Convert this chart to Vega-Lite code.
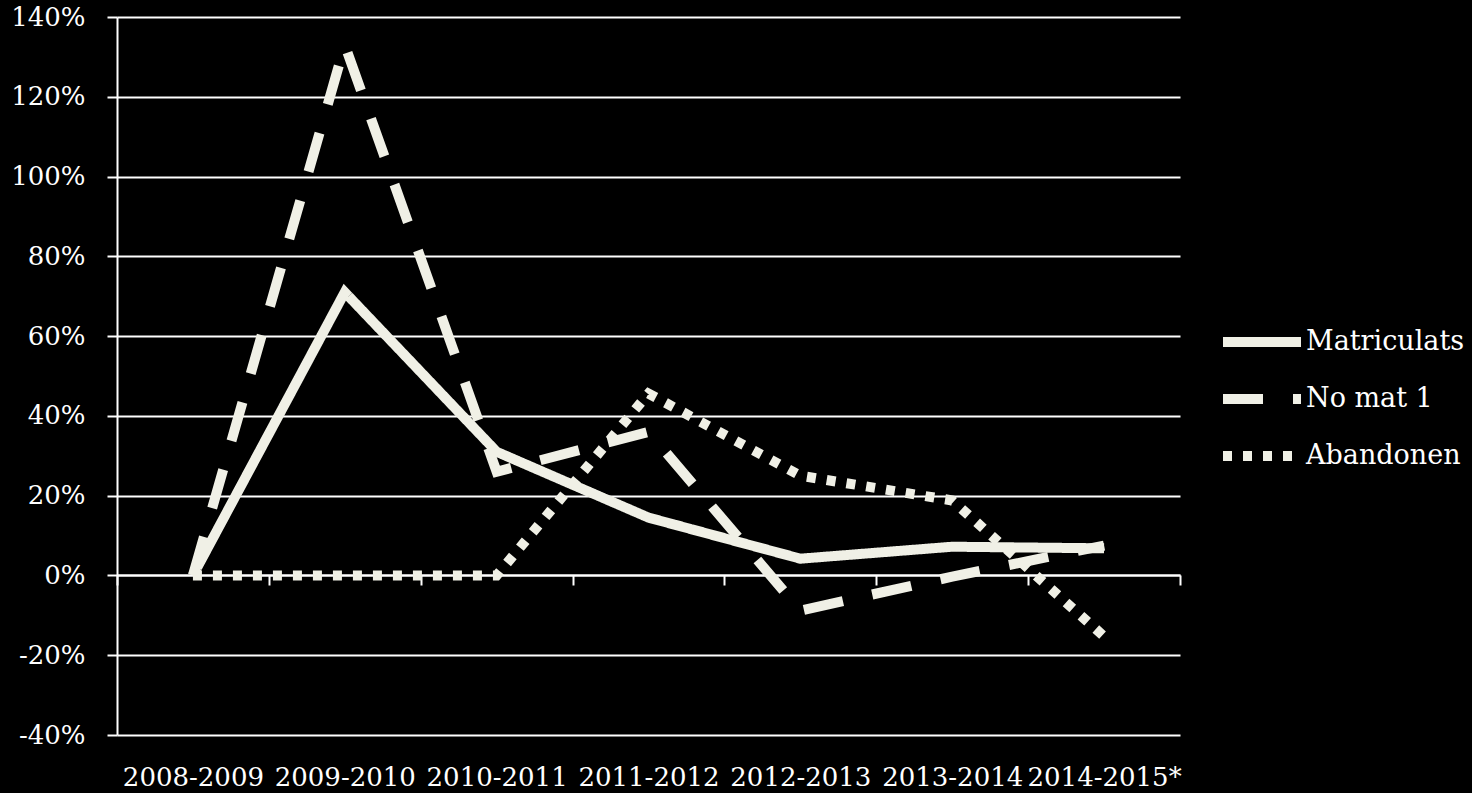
{
  "$schema": "https://vega.github.io/schema/vega-lite/v6.json",
  "width": 1063,
  "height": 718,
  "autosize": "none",
  "padding": {"left": 117, "top": 17, "right": 292, "bottom": 58},
  "background": "#000000",
  "config": {
    "view": {"stroke": null},
    "font": "DejaVu Serif"
  },
  "data": {
    "values": [
      {"period": "2008-2009", "series": "Matriculats", "value": 0},
      {"period": "2009-2010", "series": "Matriculats", "value": 0.71},
      {"period": "2010-2011", "series": "Matriculats", "value": 0.31},
      {"period": "2011-2012", "series": "Matriculats", "value": 0.145},
      {"period": "2012-2013", "series": "Matriculats", "value": 0.042},
      {"period": "2013-2014", "series": "Matriculats", "value": 0.072},
      {"period": "2014-2015*", "series": "Matriculats", "value": 0.068},
      {"period": "2008-2009", "series": "No mat 1", "value": 0},
      {"period": "2009-2010", "series": "No mat 1", "value": 1.33},
      {"period": "2010-2011", "series": "No mat 1", "value": 0.26},
      {"period": "2011-2012", "series": "No mat 1", "value": 0.36},
      {"period": "2012-2013", "series": "No mat 1", "value": -0.088},
      {"period": "2013-2014", "series": "No mat 1", "value": -0.003},
      {"period": "2014-2015*", "series": "No mat 1", "value": 0.075},
      {"period": "2008-2009", "series": "Abandonen", "value": 0},
      {"period": "2009-2010", "series": "Abandonen", "value": 0},
      {"period": "2010-2011", "series": "Abandonen", "value": 0},
      {"period": "2011-2012", "series": "Abandonen", "value": 0.456},
      {"period": "2012-2013", "series": "Abandonen", "value": 0.25},
      {"period": "2013-2014", "series": "Abandonen", "value": 0.188},
      {"period": "2014-2015*", "series": "Abandonen", "value": -0.153}
    ]
  },
  "mark": {"type": "line", "strokeWidth": 10, "color": "#F0F0E6", "strokeCap": "butt", "strokeJoin": "miter"},
  "encoding": {
    "x": {
      "field": "period",
      "type": "nominal",
      "sort": null,
      "scale": {"type": "band", "paddingInner": 0, "paddingOuter": 0},
      "axis": {
        "title": null,
        "tickBand": "extent",
        "offset": -160,
        "domainColor": "#FFFFFF",
        "domainWidth": 2,
        "tickColor": "#FFFFFF",
        "tickWidth": 2,
        "tickSize": 10,
        "grid": false,
        "labelAngle": 0,
        "labelPadding": 179,
        "labelFont": "DejaVu Serif",
        "labelFontSize": 26,
        "labelColor": "#FFFFFF",
        "labelBaseline": "top"
      }
    },
    "y": {
      "field": "value",
      "type": "quantitative",
      "scale": {"domain": [-0.4, 1.4], "nice": false, "zero": false},
      "axis": {
        "title": null,
        "values": [-0.4, -0.2, 0, 0.2, 0.4, 0.6, 0.8, 1.0, 1.2, 1.4],
        "format": ".0%",
        "labelExpr": "replace(datum.label, '\u2212', '-')",
        "domainColor": "#FFFFFF",
        "domainWidth": 2,
        "tickColor": "#FFFFFF",
        "tickWidth": 2,
        "tickSize": 10,
        "grid": true,
        "gridColor": "#FFFFFF",
        "gridWidth": 2,
        "gridOpacity": 1,
        "labelPadding": 22,
        "labelFont": "DejaVu Serif",
        "labelFontSize": 26,
        "labelColor": "#FFFFFF"
      }
    },
    "strokeDash": {
      "field": "series",
      "type": "nominal",
      "scale": {
        "domain": ["Matriculats", "No mat 1", "Abandonen"],
        "range": [[1, 0], [40, 30], [9, 11]]
      },
      "legend": {
        "title": null,
        "orient": "none",
        "legendX": 1101,
        "legendY": 309,
        "padding": 0,
        "symbolType": "stroke",
        "symbolSize": 6084,
        "symbolStrokeWidth": 10,
        "symbolStrokeColor": "#F0F0E6",
        "labelFont": "DejaVu Serif",
        "labelFontSize": 27,
        "labelColor": "#FFFFFF",
        "labelOffset": 0,
        "clipHeight": 32,
        "rowPadding": 25
      }
    }
  }
}
